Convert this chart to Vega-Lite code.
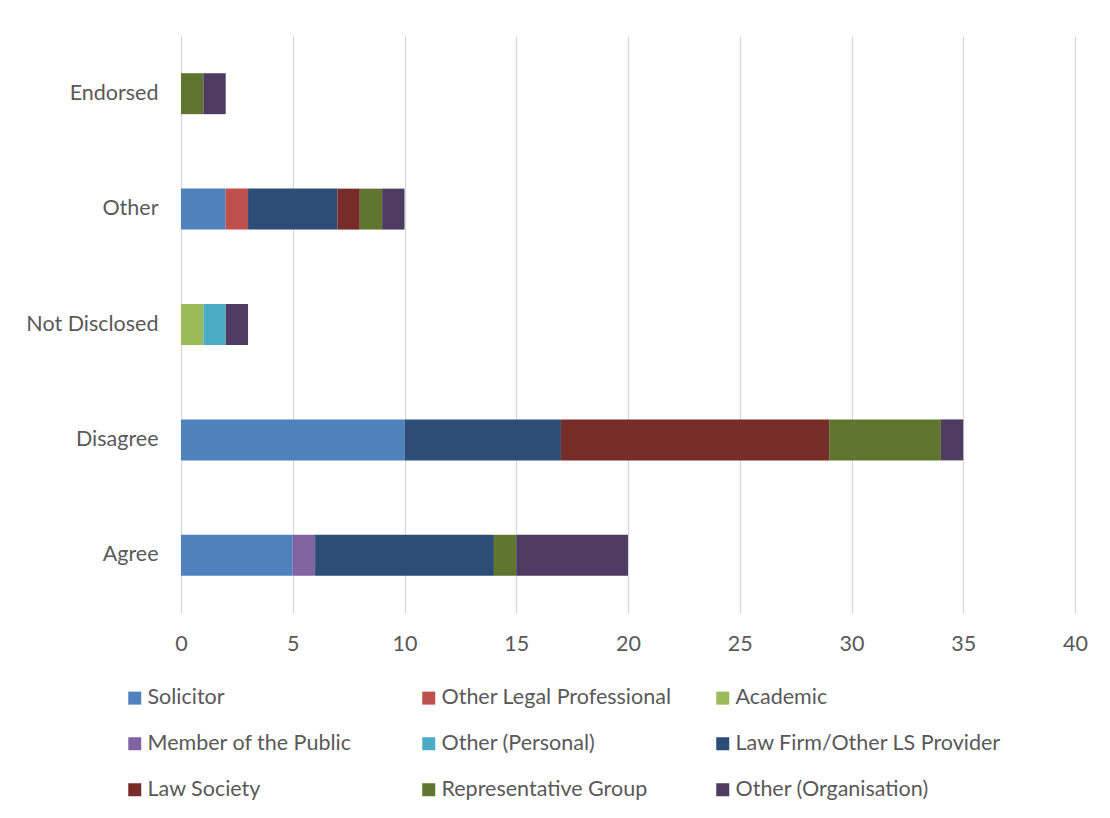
{
  "$schema": "https://vega.github.io/schema/vega-lite/v6.json",
  "width": 894,
  "height": 577,
  "autosize": {"type": "none"},
  "padding": {"left": 181, "top": 36, "right": 35, "bottom": 205},
  "background": "white",
  "config": {"view": {"stroke": null}, "font": "Lato"},
  "data": {
    "values": [
      {"Response": "Endorsed", "Respondent": "Representative Group", "Order": 8, "Count": 1},
      {"Response": "Endorsed", "Respondent": "Other (Organisation)", "Order": 9, "Count": 1},
      {"Response": "Other", "Respondent": "Solicitor", "Order": 1, "Count": 2},
      {"Response": "Other", "Respondent": "Other Legal Professional", "Order": 2, "Count": 1},
      {"Response": "Other", "Respondent": "Law Firm/Other LS Provider", "Order": 6, "Count": 4},
      {"Response": "Other", "Respondent": "Law Society", "Order": 7, "Count": 1},
      {"Response": "Other", "Respondent": "Representative Group", "Order": 8, "Count": 1},
      {"Response": "Other", "Respondent": "Other (Organisation)", "Order": 9, "Count": 1},
      {"Response": "Not Disclosed", "Respondent": "Academic", "Order": 3, "Count": 1},
      {"Response": "Not Disclosed", "Respondent": "Other (Personal)", "Order": 5, "Count": 1},
      {"Response": "Not Disclosed", "Respondent": "Other (Organisation)", "Order": 9, "Count": 1},
      {"Response": "Disagree", "Respondent": "Solicitor", "Order": 1, "Count": 10},
      {"Response": "Disagree", "Respondent": "Law Firm/Other LS Provider", "Order": 6, "Count": 7},
      {"Response": "Disagree", "Respondent": "Law Society", "Order": 7, "Count": 12},
      {"Response": "Disagree", "Respondent": "Representative Group", "Order": 8, "Count": 5},
      {"Response": "Disagree", "Respondent": "Other (Organisation)", "Order": 9, "Count": 1},
      {"Response": "Agree", "Respondent": "Solicitor", "Order": 1, "Count": 5},
      {"Response": "Agree", "Respondent": "Member of the Public", "Order": 4, "Count": 1},
      {"Response": "Agree", "Respondent": "Law Firm/Other LS Provider", "Order": 6, "Count": 8},
      {"Response": "Agree", "Respondent": "Representative Group", "Order": 8, "Count": 1},
      {"Response": "Agree", "Respondent": "Other (Organisation)", "Order": 9, "Count": 5}
    ]
  },
  "mark": {"type": "bar"},
  "encoding": {
    "y": {
      "field": "Response",
      "type": "nominal",
      "sort": ["Endorsed", "Other", "Not Disclosed", "Disagree", "Agree"],
      "scale": {"paddingInner": 0.645, "paddingOuter": 0.3225},
      "axis": {"title": null, "domain": false, "ticks": false, "grid": false, "labelPadding": 23, "labelFontSize": 21.5, "labelColor": "#595959"}
    },
    "x": {
      "field": "Count",
      "type": "quantitative",
      "stack": "zero",
      "scale": {"domain": [0, 40], "nice": false},
      "axis": {"title": null, "values": [0, 5, 10, 15, 20, 25, 30, 35, 40], "domain": false, "ticks": false, "grid": true, "gridColor": "#d9d9d9", "gridWidth": 1.3, "labelPadding": 20, "labelFlush": false, "labelFontSize": 21.5, "labelColor": "#595959"}
    },
    "color": {
      "field": "Respondent",
      "type": "nominal",
      "scale": {
        "domain": ["Solicitor", "Other Legal Professional", "Academic", "Member of the Public", "Other (Personal)", "Law Firm/Other LS Provider", "Law Society", "Representative Group", "Other (Organisation)"],
        "range": ["#4F81BD", "#C0504D", "#9BBB59", "#8064A2", "#4BACC6", "#2C4D75", "#772C2A", "#5F7530", "#4D3B62"]
      },
      "legend": {
        "orient": "none", "legendX": -57, "legendY": 651, "direction": "horizontal", "columns": 3, "title": null,
        "symbolType": "square", "symbolSize": 169, "symbolStrokeWidth": 0, "labelFontSize": 21.5, "labelColor": "#595959",
        "labelOffset": 2, "rowPadding": 23, "columnPadding": 4, "gridAlign": "all", "labelLimit": 400
      }
    },
    "order": {"field": "Order", "type": "quantitative"}
  }
}
